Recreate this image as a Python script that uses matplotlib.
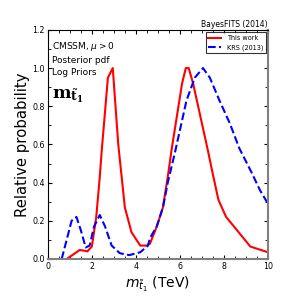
import matplotlib
matplotlib.use('Agg')
import matplotlib.pyplot as plt
from matplotlib.ticker import MultipleLocator

# This work (red)
x_this = [0.86, 1.45, 1.8, 2.0, 2.2, 2.36, 2.45, 2.73, 2.95, 3.2, 3.5, 3.8, 4.2, 4.5, 4.64,
          4.95, 5.23, 5.45, 5.62, 6.1, 6.27, 6.4, 6.6, 7.27, 7.45, 7.75, 8.1, 8.6, 9.2, 10.0]
y_this = [0.0, 0.047, 0.04, 0.065, 0.22, 0.43, 0.57, 0.95, 1.0, 0.6, 0.27, 0.14, 0.07, 0.07, 0.08,
          0.17, 0.27, 0.43, 0.57, 0.92, 1.0, 1.0, 0.92, 0.57, 0.47, 0.31, 0.22, 0.15, 0.065, 0.035]

# KRS (2013) (blue dashed)
x_krs = [0.63, 1.08, 1.3, 1.5, 1.72, 1.9, 2.1, 2.36, 2.6, 2.9, 3.27, 3.7, 4.2, 4.55, 4.64,
         4.95, 5.23, 5.45, 5.8, 6.3, 6.68, 7.05, 7.36, 7.8, 8.27, 8.7, 9.27, 9.64, 10.0]
y_krs = [0.0, 0.2, 0.22, 0.15, 0.06, 0.07, 0.17, 0.23, 0.17, 0.07, 0.03, 0.02, 0.035, 0.07, 0.11,
         0.17, 0.27, 0.4, 0.57, 0.83, 0.95, 1.0, 0.95, 0.83, 0.71, 0.58, 0.45, 0.36, 0.29]

fig = plt.figure(figsize=(2.99, 2.99), dpi=100)
ax = fig.add_axes([0.16, 0.134, 0.736, 0.766])

ax.plot(x_this, y_this, color='red', linewidth=1.5, label='This work')
ax.plot(x_krs, y_krs, color='blue', linestyle='--', linewidth=1.5, label='KRS (2013)')

ax.set_xlim(0, 10)
ax.set_ylim(0, 1.2)
ax.xaxis.set_major_locator(MultipleLocator(2))
ax.xaxis.set_minor_locator(MultipleLocator(0.5))
ax.yaxis.set_major_locator(MultipleLocator(0.2))
ax.yaxis.set_minor_locator(MultipleLocator(0.1))
ax.tick_params(which='both', direction='in', top=True, right=True, labelsize=5.7, pad=2)
ax.tick_params(which='major', length=3)
ax.tick_params(which='minor', length=2)
for s in ax.spines.values():
    s.set_linewidth(0.8)
ax.spines['right'].set_color('gray')
ax.spines['bottom'].set_color('gray')
ax.spines['right'].set_linewidth(1.5)
ax.spines['bottom'].set_linewidth(1.5)

ax.set_ylabel('Relative probability', fontsize=10.7, labelpad=2)
ax.set_xlabel(r'$m_{\tilde{t}_1}$ (TeV)', fontsize=10, labelpad=3)
ax.set_title('BayesFITS (2014)', fontsize=5.5, loc='right', pad=2)

ax.text(0.018, 0.955, r'CMSSM, $\mu>0$' + '\nPosterior pdf\nLog Priors', transform=ax.transAxes,
        fontsize=6.5, va='top', ha='left', linespacing=1.4)
ax.text(0.018, 0.67, r'$\mathbf{m_{\tilde{t}_1}}$', transform=ax.transAxes,
        fontsize=12.5, va='bottom', ha='left', math_fontfamily='dejavuserif')

leg = ax.legend(loc='upper right', fontsize=4.7, frameon=True, fancybox=False,
                borderaxespad=0.35, handlelength=2.0)
leg.get_frame().set_edgecolor('black')
leg.get_frame().set_linewidth(0.8)

fig.savefig('out.png', dpi=100)
